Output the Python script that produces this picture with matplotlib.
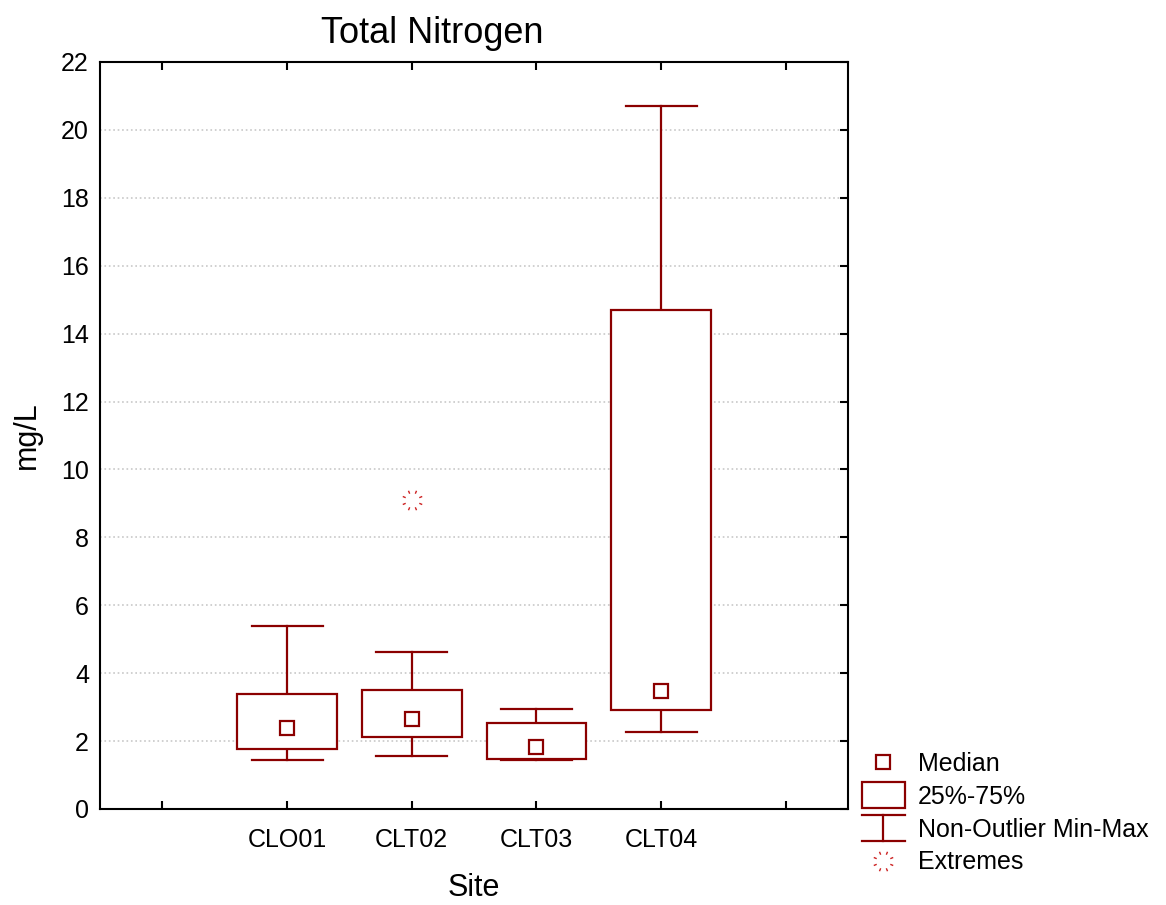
import numpy as np
import matplotlib.pyplot as plt
from matplotlib.path import Path
from matplotlib.patches import Rectangle
from matplotlib.lines import Line2D
from matplotlib.legend_handler import HandlerBase

plt.rcParams['font.family'] = ['Liberation Sans', 'DejaVu Sans']

# Summary stats per site (mg/L)
sites = ['CLO01', 'CLT02', 'CLT03', 'CLT04']
medians = [2.38, 2.66, 1.83, 3.48]
q25 = [1.78, 2.12, 1.47, 2.92]
q75 = [3.38, 3.50, 2.53, 14.70]
whisk_lo = [1.44, 1.55, 1.44, 2.27]
whisk_hi = [5.40, 4.63, 2.95, 20.71]
# extreme values: (site index, value)
extreme_site = [1]
extreme_val = [9.10]

RED = '#8B0000'
LW = 1.6
BOX_W = 0.8
CAP_W = 0.57

# dotted ring marker for extremes
ang = np.linspace(0, 2 * np.pi, 8, endpoint=False) + np.pi / 8
verts, codes = [], []
for a in ang:
    verts += [(0.7 * np.cos(a), 0.7 * np.sin(a)), (1.0 * np.cos(a), 1.0 * np.sin(a))]
    codes += [Path.MOVETO, Path.LINETO]
ring = Path(verts, codes)


class WhiskerHandler(HandlerBase):
    def create_artists(self, legend, orig, xd, yd, w, h, fs, trans):
        x0, x1 = xd, xd + w
        xm = xd + w / 2
        y0, y1 = yd - h * 0.25, yd + h * 1.25
        arts = [Line2D([x0, x1], [y1, y1]), Line2D([x0, x1], [y0, y0]),
                Line2D([xm, xm], [y0, y1])]
        for a in arts:
            a.set_color(RED)
            a.set_linewidth(LW)
            a.set_transform(trans)
        return arts


class BoxHandler(HandlerBase):
    def create_artists(self, legend, orig, xd, yd, w, h, fs, trans):
        r = Rectangle((xd, yd - h * 0.25), w, h * 1.5, facecolor='white',
                      edgecolor=RED, linewidth=LW, transform=trans)
        return [r]


fig = plt.figure(figsize=(11.66, 9.05), dpi=100)
ax = fig.add_axes([0.0858, 0.1061, 0.6415, 0.8254])

x = np.arange(1, len(sites) + 1)
for i, xi in enumerate(x):
    ax.plot([xi, xi], [whisk_lo[i], q25[i]], color=RED, lw=LW, zorder=3)
    ax.plot([xi, xi], [q75[i], whisk_hi[i]], color=RED, lw=LW, zorder=3)
    ax.plot([xi - CAP_W / 2, xi + CAP_W / 2], [whisk_lo[i]] * 2, color=RED, lw=LW, zorder=3)
    ax.plot([xi - CAP_W / 2, xi + CAP_W / 2], [whisk_hi[i]] * 2, color=RED, lw=LW, zorder=3)
    ax.add_patch(Rectangle((xi - BOX_W / 2, q25[i]), BOX_W, q75[i] - q25[i],
                           facecolor='white', edgecolor=RED, lw=LW, zorder=4))
ax.plot(x, medians, ls='none', marker='s', ms=10, mfc='white', mec=RED, mew=LW, zorder=5)
ax.plot(x[extreme_site], extreme_val, ls='none', marker=ring, ms=14,
        mec='#cc2020', mew=1.0, zorder=5)

ax.set_xlim(-0.5, 5.5)
ax.set_ylim(0, 22)
ax.set_xticks(range(0, 6))
ax.set_xticklabels([''] + sites + [''])
ax.set_yticks(range(0, 23, 2))
ax.tick_params(axis='x', direction='in', length=6, width=1.5, top=True,
               labelsize=18, pad=14)
ax.tick_params(axis='y', direction='in', length=6, width=1.5, left=False,
               right=True, labelsize=18, pad=8)
ax.grid(axis='y', color='#c8c8c8', ls=':', lw=1.2)
ax.set_axisbelow(True)
for s in ax.spines.values():
    s.set_linewidth(1.5)

ax.set_title('Total Nitrogen', fontsize=26, pad=14, x=0.444)
ax.set_xlabel('Site', fontsize=22, labelpad=15)
ax.set_ylabel('mg/L', fontsize=22, labelpad=14)

h_med = Line2D([], [], ls='none', marker='s', ms=10, mfc='white', mec=RED, mew=LW)
h_box = Rectangle((0, 0), 1, 1)
h_whisk = Line2D([], [])
h_ext = Line2D([], [], ls='none', marker=ring, ms=14, mec='#cc2020', mew=1.0)
fig.legend([h_med, h_box, h_whisk, h_ext],
           ['Median', '25%-75%', 'Non-Outlier Min-Max', 'Extremes'],
           handler_map={h_box: BoxHandler(), h_whisk: WhiskerHandler()},
           loc='upper left', bbox_to_anchor=(0.739, 0.169), frameon=False,
           fontsize=18, handlelength=1.72, handletextpad=0.52, labelspacing=0.35,
           borderpad=0, borderaxespad=0)

fig.savefig('out.png', dpi=100)
